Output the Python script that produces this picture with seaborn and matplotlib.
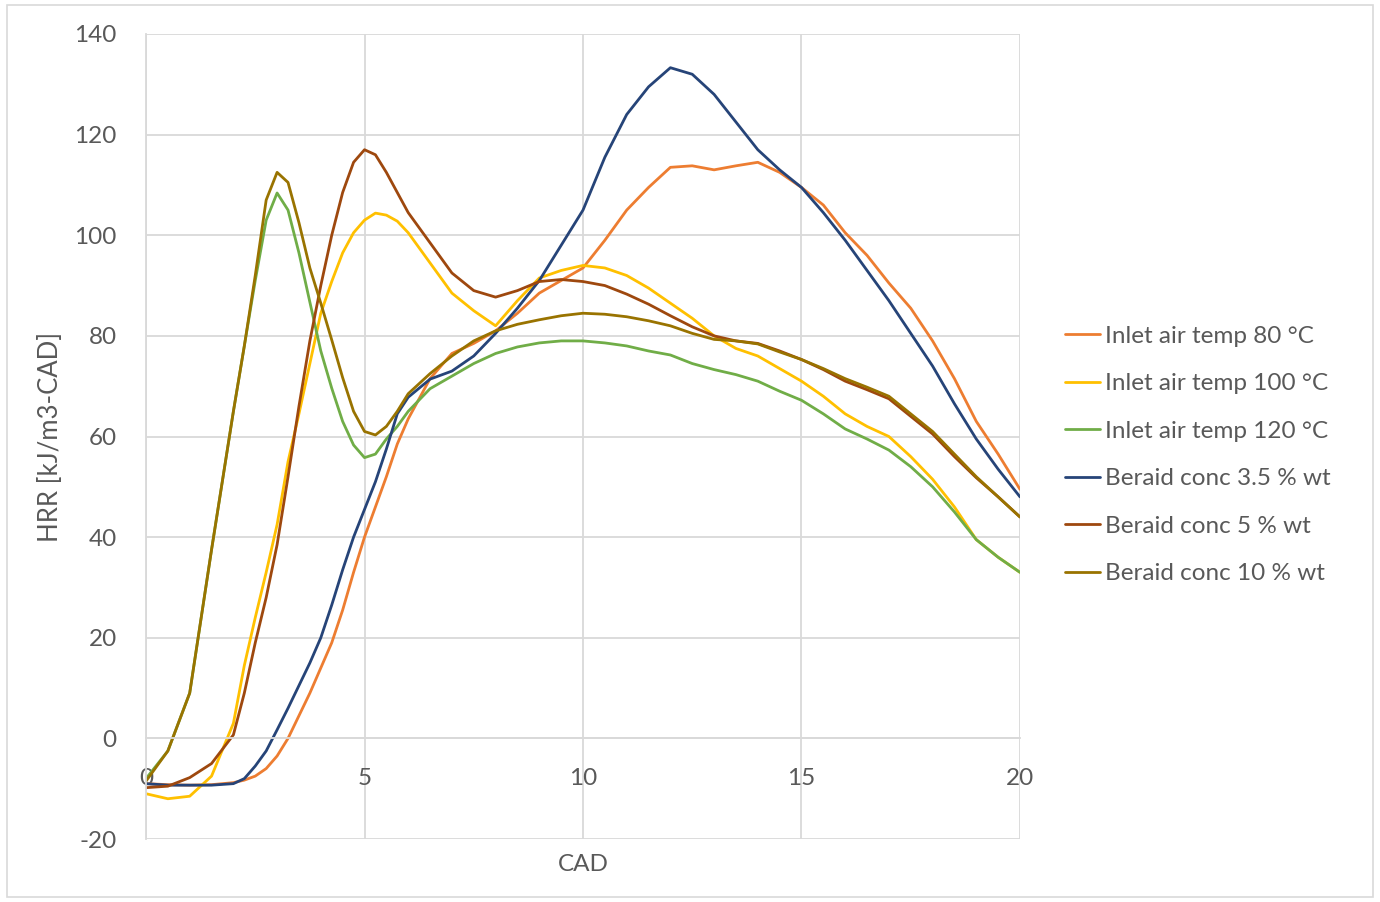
import numpy as np
import pandas as pd
import matplotlib
matplotlib.use("Agg")
import matplotlib.pyplot as plt
from matplotlib.patches import Rectangle
import seaborn as sns

# crank angle steps (CAD), finer where the curves turn quickly
cad = [0, 0.5, 1, 1.5, 2,
       2.25, 2.5, 2.75, 3, 3.25, 3.5, 3.75, 4, 4.25, 4.5, 4.75, 5, 5.25, 5.5, 5.75, 6,
       6.5, 7, 7.5, 8, 8.5, 9, 9.5, 10, 10.5, 11, 11.5, 12, 12.5, 13, 13.5, 14, 14.5,
       15, 15.5, 16, 16.5, 17, 17.5, 18, 18.5, 19, 19.5, 20]

inlet_80 = [-9, -9.2, -9.3, -9.2, -8.8,
            -8.3, -7.5, -6, -3.5, 0, 4.5, 9, 14, 19, 25.5, 33, 40, 46, 52, 58.5, 63.5,
            71.5, 76.5, 78.5, 81, 84.5, 88.5, 91, 93.5, 99, 105, 109.5, 113.5, 113.8, 113,
            113.8, 114.5, 112.5, 109.5, 106, 100.5, 96, 90.5, 85.5, 79, 71.5, 63, 56.5, 49.5]
inlet_100 = [-11, -12, -11.5, -7.5, 3,
             14.5, 24, 33, 42.5, 55, 64.5, 74.5, 84.5, 90.8, 96.5, 100.5, 103, 104.4, 104,
             102.8, 100.5,
             94.5, 88.5, 85, 82, 87, 91.5, 93, 94, 93.5, 92, 89.5, 86.5, 83.5, 80, 77.5, 76,
             73.5, 71, 68, 64.5, 62, 60, 56, 51.5, 46, 39.5, 36, 33]
inlet_120 = [-8, -2.5, 9, 37.5, 65,
             78, 91, 103, 108.4, 105, 96.5, 86.7, 77, 69.6, 63, 58.3, 55.8, 56.5, 59.5, 62, 65,
             69.5, 72, 74.5, 76.5, 77.8, 78.6, 79, 79, 78.6, 78, 77, 76.2, 74.5, 73.3, 72.3,
             71, 69, 67.2, 64.5, 61.5, 59.5, 57.3, 54, 50, 45, 39.5, 36, 33]
beraid_35 = [-9, -9.3, -9.3, -9.3, -9,
             -8, -5.5, -2.5, 1.7, 6, 10.5, 15, 20, 26.5, 33.5, 40, 45.5, 51, 57.5, 64.5, 67.8,
             71.4, 73, 76, 80.5, 85.5, 91, 98, 105, 115.5, 124, 129.5, 133.3, 132, 128, 122.5,
             117, 113, 109.5, 104.5, 99, 93, 87, 80.5, 74, 66.5, 59.5, 53.5, 48]
beraid_5 = [-9.8, -9.5, -7.8, -5, 0.7,
            9, 19, 28, 38.5, 52, 66, 79, 90, 100, 108.5, 114.5, 117, 116, 112.5, 108.5, 104.5,
            98.5, 92.5, 89, 87.7, 89, 90.8, 91.2, 90.8, 90, 88.3, 86.3, 84, 81.8, 80, 79,
            78.5, 77, 75.3, 73.3, 71, 69.3, 67.5, 64, 60.5, 56, 51.8, 48, 44]
beraid_10 = [-8.5, -2.5, 9, 37.5, 65,
             78, 92, 107, 112.5, 110.5, 102.5, 93.5, 86.5, 79.2, 71.7, 65, 61, 60.3, 62, 65,
             68.5,
             72.5, 76, 79, 81, 82.3, 83.2, 84, 84.5, 84.3, 83.8, 83, 82, 80.5, 79.3, 79, 78.4,
             76.8, 75.3, 73.5, 71.5, 69.8, 68, 64.5, 61, 56.5, 52, 48, 44]

labels = ["Inlet air temp 80 °C", "Inlet air temp 100 °C", "Inlet air temp 120 °C",
          "Beraid conc 3.5 % wt", "Beraid conc 5 % wt", "Beraid conc 10 % wt"]
colors = ["#ED7D31", "#FFC000", "#70AD47", "#264478", "#9E480E", "#997300"]
series = [inlet_80, inlet_100, inlet_120, beraid_35, beraid_5, beraid_10]

df = pd.concat([pd.DataFrame({"CAD": cad, "HRR": vals, "series": lab})
                for lab, vals in zip(labels, series)], ignore_index=True)

sns.set_theme(style="white")
plt.rcParams['font.family'] = ['Lato', 'DejaVu Sans']
plt.rcParams['axes.unicode_minus'] = False
text_col = "#595959"
grid_col = "#D9D9D9"

fig = plt.figure(figsize=(13.8, 9.02), dpi=100)
ax = fig.add_axes([146 / 1380, 1 - 839 / 902, 874 / 1380, 805 / 902])

sns.lineplot(data=df, x="CAD", y="HRR", hue="series", hue_order=labels,
             palette=colors, linewidth=2.0, ax=ax, sort=True)

ax.set_xlim(0, 20)
ax.set_ylim(-20, 140)
ax.set_xticks([0, 5, 10, 15, 20])
ax.set_yticks(np.arange(-20, 141, 20))
ax.grid(True, color=grid_col, linewidth=1.3)
ax.set_axisbelow(True)

for s in ["top", "right"]:
    ax.spines[s].set_visible(False)
ax.spines["left"].set_color(grid_col)
ax.spines["left"].set_linewidth(1.3)
ax.spines["bottom"].set_position(("data", 0))
ax.spines["bottom"].set_color(grid_col)
ax.spines["bottom"].set_linewidth(1.3)

ax.tick_params(axis="both", length=0, labelsize=17.5, labelcolor=text_col)
ax.tick_params(axis="x", pad=21)
ax.tick_params(axis="y", pad=21)

ax.set_xlabel("CAD", fontsize=17.5, color=text_col)
ax.xaxis.set_label_coords(0.5, -0.019)
ax.set_ylabel("HRR [kJ/m3-CAD]", fontsize=18.5, color=text_col, labelpad=8)

leg = ax.legend(loc="center left", bbox_to_anchor=(1.0515, 0.477), frameon=False,
                fontsize=17.5, handlelength=1.45, handletextpad=0.2, labelspacing=1.09,
                borderpad=0, borderaxespad=0)
for t in leg.get_texts():
    t.set_color(text_col)
for h in leg.get_lines():
    h.set_linewidth(2.0)

fig.patches.append(Rectangle((7 / 1380, 5 / 902), 1366 / 1380, 892 / 902,
                             transform=fig.transFigure, fill=False,
                             edgecolor=grid_col, linewidth=1.2))

fig.savefig("out.png", dpi=100)
